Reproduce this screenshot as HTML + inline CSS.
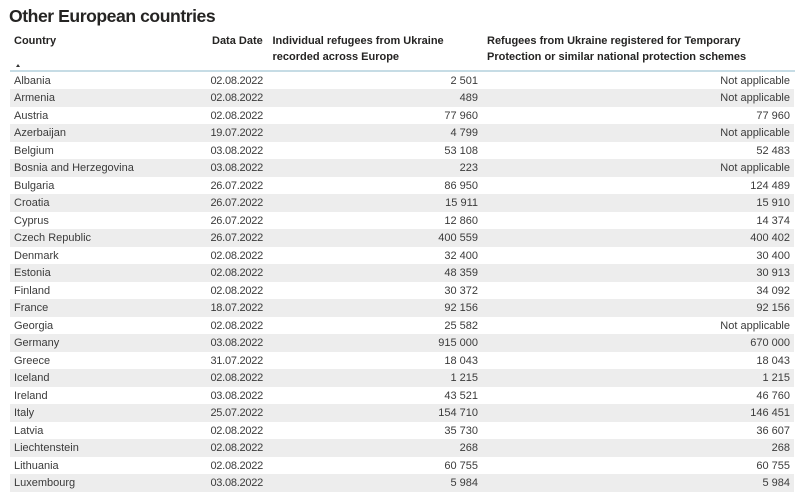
<!DOCTYPE html>
<html>
<head>
<meta charset="utf-8">
<style>
  html, body { margin:0; padding:0; background:#ffffff; }
  body { width:800px; height:492px; position:relative; overflow:hidden; font-family:"Liberation Sans", Arial, sans-serif; }
  .title { position:absolute; left:9px; top:4px; font-size:17.6px; font-weight:bold; color:#252423; letter-spacing:-0.45px; line-height:24px; white-space:nowrap; }
  .h { position:absolute; font-size:11px; font-weight:bold; color:#252423; line-height:15.5px; white-space:nowrap; }
  .hline { position:absolute; left:10px; top:69.5px; width:785px; height:2px; background:#c6dce5; }
  .arrow { position:absolute; left:16px; top:64px; width:0; height:0; border-left:2.5px solid transparent; border-right:2.5px solid transparent; border-bottom:3.5px solid #333; }
  .row { position:absolute; left:10px; width:784px; height:17.5px; font-size:11px; color:#3b3b3b; line-height:17.5px; }
  .row.g { background:#ededed; }
  .row div { position:absolute; top:1px; white-space:nowrap; }
  .c1 { left:4px; }
  .c2 { right:531px; letter-spacing:-0.25px; }
  .c3 { right:316px; }
  .c4 { right:4px; }
</style>
</head>
<body>
<div class="title">Other European countries</div>

<div class="h" style="left:14px; top:34px;">Country</div>
<div class="h" style="left:212px; top:34px;">Data Date</div>
<div class="h" style="left:272.5px; top:34px;">Individual refugees from Ukraine<br>recorded across Europe</div>
<div class="h" style="left:487px; top:34px;">Refugees from Ukraine registered for Temporary<br>Protection or similar national protection schemes</div>
<div class="arrow"></div>
<div class="hline"></div>

<div class="row" style="top:71.5px"><div class="c1">Albania</div><div class="c2">02.08.2022</div><div class="c3">2 501</div><div class="c4">Not applicable</div></div>
<div class="row g" style="top:89px"><div class="c1">Armenia</div><div class="c2">02.08.2022</div><div class="c3">489</div><div class="c4">Not applicable</div></div>
<div class="row" style="top:106.5px"><div class="c1">Austria</div><div class="c2">02.08.2022</div><div class="c3">77 960</div><div class="c4">77 960</div></div>
<div class="row g" style="top:124px"><div class="c1">Azerbaijan</div><div class="c2">19.07.2022</div><div class="c3">4 799</div><div class="c4">Not applicable</div></div>
<div class="row" style="top:141.5px"><div class="c1">Belgium</div><div class="c2">03.08.2022</div><div class="c3">53 108</div><div class="c4">52 483</div></div>
<div class="row g" style="top:159px"><div class="c1">Bosnia and Herzegovina</div><div class="c2">03.08.2022</div><div class="c3">223</div><div class="c4">Not applicable</div></div>
<div class="row" style="top:176.5px"><div class="c1">Bulgaria</div><div class="c2">26.07.2022</div><div class="c3">86 950</div><div class="c4">124 489</div></div>
<div class="row g" style="top:194px"><div class="c1">Croatia</div><div class="c2">26.07.2022</div><div class="c3">15 911</div><div class="c4">15 910</div></div>
<div class="row" style="top:211.5px"><div class="c1">Cyprus</div><div class="c2">26.07.2022</div><div class="c3">12 860</div><div class="c4">14 374</div></div>
<div class="row g" style="top:229px"><div class="c1">Czech Republic</div><div class="c2">26.07.2022</div><div class="c3">400 559</div><div class="c4">400 402</div></div>
<div class="row" style="top:246.5px"><div class="c1">Denmark</div><div class="c2">02.08.2022</div><div class="c3">32 400</div><div class="c4">30 400</div></div>
<div class="row g" style="top:264px"><div class="c1">Estonia</div><div class="c2">02.08.2022</div><div class="c3">48 359</div><div class="c4">30 913</div></div>
<div class="row" style="top:281.5px"><div class="c1">Finland</div><div class="c2">02.08.2022</div><div class="c3">30 372</div><div class="c4">34 092</div></div>
<div class="row g" style="top:299px"><div class="c1">France</div><div class="c2">18.07.2022</div><div class="c3">92 156</div><div class="c4">92 156</div></div>
<div class="row" style="top:316.5px"><div class="c1">Georgia</div><div class="c2">02.08.2022</div><div class="c3">25 582</div><div class="c4">Not applicable</div></div>
<div class="row g" style="top:334px"><div class="c1">Germany</div><div class="c2">03.08.2022</div><div class="c3">915 000</div><div class="c4">670 000</div></div>
<div class="row" style="top:351.5px"><div class="c1">Greece</div><div class="c2">31.07.2022</div><div class="c3">18 043</div><div class="c4">18 043</div></div>
<div class="row g" style="top:369px"><div class="c1">Iceland</div><div class="c2">02.08.2022</div><div class="c3">1 215</div><div class="c4">1 215</div></div>
<div class="row" style="top:386.5px"><div class="c1">Ireland</div><div class="c2">03.08.2022</div><div class="c3">43 521</div><div class="c4">46 760</div></div>
<div class="row g" style="top:404px"><div class="c1">Italy</div><div class="c2">25.07.2022</div><div class="c3">154 710</div><div class="c4">146 451</div></div>
<div class="row" style="top:421.5px"><div class="c1">Latvia</div><div class="c2">02.08.2022</div><div class="c3">35 730</div><div class="c4">36 607</div></div>
<div class="row g" style="top:439px"><div class="c1">Liechtenstein</div><div class="c2">02.08.2022</div><div class="c3">268</div><div class="c4">268</div></div>
<div class="row" style="top:456.5px"><div class="c1">Lithuania</div><div class="c2">02.08.2022</div><div class="c3">60 755</div><div class="c4">60 755</div></div>
<div class="row g" style="top:474px"><div class="c1">Luxembourg</div><div class="c2">03.08.2022</div><div class="c3">5 984</div><div class="c4">5 984</div></div>
</body>
</html>
